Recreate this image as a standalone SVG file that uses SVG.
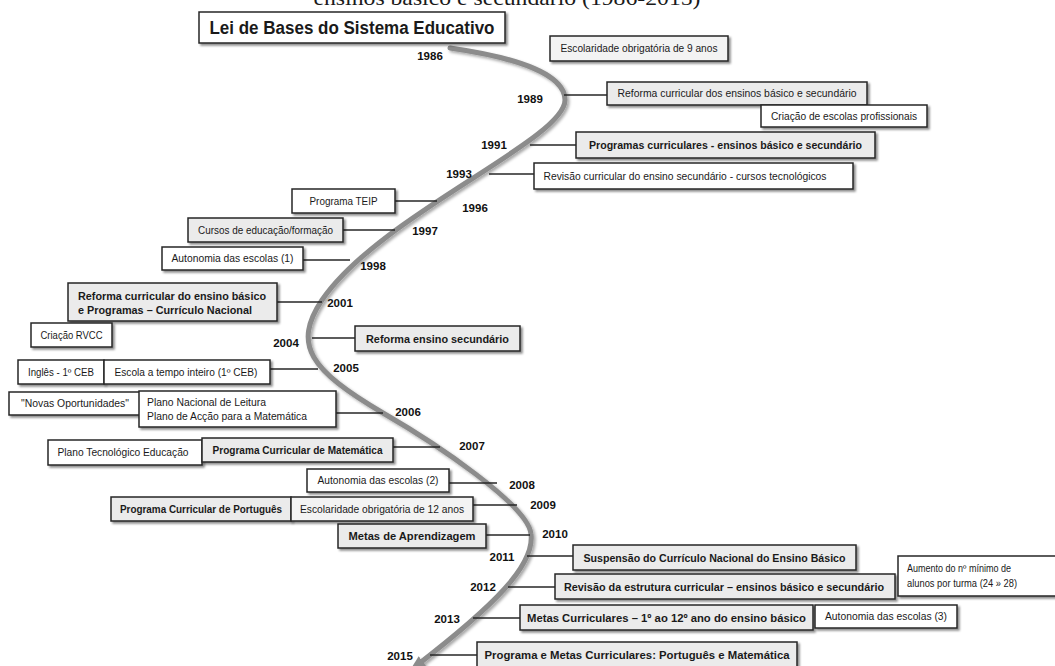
<svg xmlns="http://www.w3.org/2000/svg" width="1055" height="666" viewBox="0 0 1055 666">
<defs>
<style>
.bx{stroke:#262626;stroke-width:1.5;filter:url(#sh)}
.g{fill:#ebebeb}.w{fill:#ffffff}.l{fill:#f3f3f3}
text{font-family:"Liberation Sans",Arial,sans-serif;fill:#1a1a1a}
.t{font-size:10px;text-anchor:middle;dominant-baseline:central}
.tl{font-size:10px;dominant-baseline:central}
.b{font-size:10.5px;font-weight:bold;text-anchor:middle;dominant-baseline:central}
.bl{font-size:10.5px;font-weight:bold;dominant-baseline:central}
.yr{font-size:11.5px;font-weight:bold;text-anchor:middle;dominant-baseline:central;fill:#111}
.cn line{stroke:#262626;stroke-width:1.5}
</style>
<filter id="sh" x="-10%" y="-30%" width="125%" height="180%">
<feDropShadow dx="2" dy="2" stdDeviation="1.3" flood-color="#000" flood-opacity="0.45"/>
</filter>
<filter id="csh" x="-10%" y="-10%" width="130%" height="130%">
<feDropShadow dx="2" dy="2" stdDeviation="1.5" flood-color="#000" flood-opacity="0.35"/>
</filter>
<marker id="arr" markerUnits="userSpaceOnUse" markerWidth="16" markerHeight="16" refX="8" refY="8" orient="auto">
<path d="M0,2 L16,8 L0,14 Z" fill="#8c8c8c"/>
</marker>
</defs>
<rect width="1055" height="666" fill="#ffffff"/>
<text x="507" y="5" style="font-family:'Liberation Serif','Times New Roman',serif;font-size:22px;text-anchor:middle" textLength="387" lengthAdjust="spacingAndGlyphs">ensinos básico e secundário (1986-2015)</text>

<g id="timeline">
<path d="M450,48 C520,58 565,75 565,100 C565,140 380,215 322,300 C292,345 310,370 383,413 C435,443 528,505 531,534 C535,565 495,605 416,666" fill="none" stroke="#8c8c8c" stroke-width="5" stroke-linecap="round" filter="url(#csh)" marker-end="url(#arr)"/>
</g>

<g id="connectors" class="cn">
<line x1="564" y1="95" x2="607" y2="95"/>
<line x1="530" y1="145" x2="576" y2="145"/>
<line x1="489" y1="174" x2="534" y2="174"/>
<line x1="395" y1="201" x2="437" y2="201"/>
<line x1="343" y1="230" x2="395" y2="230"/>
<line x1="303" y1="260" x2="350" y2="260"/>
<line x1="277" y1="302" x2="322" y2="302"/>
<line x1="312" y1="338" x2="355" y2="338"/>
<line x1="270" y1="369" x2="318" y2="369"/>
<line x1="336" y1="413" x2="383" y2="413"/>
<line x1="393" y1="447" x2="440" y2="447"/>
<line x1="449" y1="483" x2="497" y2="483"/>
<line x1="473" y1="505" x2="517" y2="505"/>
<line x1="486" y1="535" x2="530" y2="535"/>
<line x1="527" y1="556" x2="573" y2="556"/>
<line x1="508" y1="587" x2="555" y2="587"/>
<line x1="473" y1="618" x2="520" y2="618"/>
<line x1="430" y1="655" x2="477" y2="655"/>
</g>

<g id="years">
<text class="yr" x="430" y="56">1986</text>
<text class="yr" x="530" y="99">1989</text>
<text class="yr" x="494" y="145">1991</text>
<text class="yr" x="459" y="174">1993</text>
<text class="yr" x="475" y="208">1996</text>
<text class="yr" x="425" y="231">1997</text>
<text class="yr" x="373" y="266">1998</text>
<text class="yr" x="340" y="303">2001</text>
<text class="yr" x="286" y="343">2004</text>
<text class="yr" x="346" y="368">2005</text>
<text class="yr" x="408" y="412">2006</text>
<text class="yr" x="472" y="446">2007</text>
<text class="yr" x="522" y="485">2008</text>
<text class="yr" x="543" y="505">2009</text>
<text class="yr" x="555" y="534">2010</text>
<text class="yr" x="502" y="557">2011</text>
<text class="yr" x="483" y="587">2012</text>
<text class="yr" x="447" y="619">2013</text>
<text class="yr" x="400" y="656">2015</text>
</g>

<g id="n-lei">
<rect class="bx w" x="199" y="12" width="306" height="31"/>
<text x="352" y="28" style="font-size:18px;font-weight:bold;text-anchor:middle;dominant-baseline:central" textLength="285" lengthAdjust="spacingAndGlyphs">Lei de Bases do Sistema Educativo</text>
</g>
<g id="n-escol9">
<rect class="bx l" x="550" y="36" width="178" height="25"/>
<text class="t" x="639" y="48.5" textLength="157" lengthAdjust="spacingAndGlyphs">Escolaridade obrigatória de 9 anos</text>
</g>
<g id="n-reforma89">
<rect class="bx g" x="607" y="82" width="260" height="23"/>
<text class="t" x="737" y="93.5" textLength="239" lengthAdjust="spacingAndGlyphs">Reforma curricular dos ensinos básico e secundário</text>
</g>
<g id="n-criacao">
<rect class="bx w" x="761" y="105" width="166" height="22"/>
<text class="t" x="844" y="116" textLength="146" lengthAdjust="spacingAndGlyphs">Criação de escolas profissionais</text>
</g>
<g id="n-programas91">
<rect class="bx g" x="576" y="132" width="299" height="26"/>
<text class="b" x="725.5" y="145" textLength="273" lengthAdjust="spacingAndGlyphs">Programas curriculares - ensinos básico e secundário</text>
</g>
<g id="n-revisao93">
<rect class="bx w" x="534" y="163" width="319" height="26"/>
<text class="t" x="685" y="176" textLength="283" lengthAdjust="spacingAndGlyphs">Revisão curricular do ensino secundário - cursos tecnológicos</text>
</g>
<g id="n-teip">
<rect class="bx w" x="292" y="189" width="103" height="24"/>
<text class="t" x="343.5" y="201" textLength="68" lengthAdjust="spacingAndGlyphs">Programa TEIP</text>
</g>
<g id="n-cursos">
<rect class="bx g" x="188" y="218" width="155" height="24"/>
<text class="t" x="265.5" y="230" textLength="135" lengthAdjust="spacingAndGlyphs">Cursos de educação/formação</text>
</g>
<g id="n-autonomia1">
<rect class="bx w" x="162" y="247" width="141" height="23"/>
<text class="t" x="232.5" y="258.5" textLength="122" lengthAdjust="spacingAndGlyphs">Autonomia das escolas (1)</text>
</g>
<g id="n-reforma01">
<rect class="bx g" x="68" y="283" width="209" height="38"/>
<text class="bl" x="78" y="295.5" textLength="188" lengthAdjust="spacingAndGlyphs">Reforma curricular do ensino básico</text>
<text class="bl" x="78" y="310" textLength="174" lengthAdjust="spacingAndGlyphs">e Programas – Currículo Nacional</text>
</g>
<g id="n-rvcc">
<rect class="bx w" x="31" y="323" width="81" height="24"/>
<text class="t" x="71.5" y="335" textLength="62" lengthAdjust="spacingAndGlyphs">Criação RVCC</text>
</g>
<g id="n-reforma04">
<rect class="bx g" x="355" y="326" width="165" height="25"/>
<text class="b" x="437.5" y="338.5" textLength="143" lengthAdjust="spacingAndGlyphs">Reforma ensino secundário</text>
</g>
<g id="n-ingles">
<rect class="bx w" x="18" y="360" width="86" height="24"/>
<text class="t" x="61" y="372" textLength="66" lengthAdjust="spacingAndGlyphs">Inglês - 1º CEB</text>
</g>
<g id="n-escola">
<rect class="bx w" x="104" y="360" width="166" height="24"/>
<text class="t" x="186" y="372" textLength="143" lengthAdjust="spacingAndGlyphs">Escola a tempo inteiro (1º CEB)</text>
</g>
<g id="n-novas">
<rect class="bx w" x="9" y="392" width="132" height="23"/>
<text class="t" x="75" y="403.5" textLength="108" lengthAdjust="spacingAndGlyphs">"Novas Oportunidades"</text>
</g>
<g id="n-plano">
<rect class="bx w" x="139" y="391" width="197" height="36"/>
<text class="tl" x="147" y="402" textLength="119" lengthAdjust="spacingAndGlyphs">Plano Nacional de Leitura</text>
<text class="tl" x="147" y="416" textLength="160" lengthAdjust="spacingAndGlyphs">Plano de Acção para a Matemática</text>
</g>
<g id="n-planotec">
<rect class="bx w" x="48" y="440" width="154" height="25"/>
<text class="t" x="123" y="452.5" textLength="131" lengthAdjust="spacingAndGlyphs">Plano Tecnológico Educação</text>
</g>
<g id="n-progmat">
<rect class="bx g" x="202" y="438" width="191" height="24"/>
<text class="b" x="297.5" y="450" textLength="170" lengthAdjust="spacingAndGlyphs">Programa Curricular de Matemática</text>
</g>
<g id="n-autonomia2">
<rect class="bx w" x="307" y="469" width="142" height="23"/>
<text class="t" x="378" y="480.5" textLength="121" lengthAdjust="spacingAndGlyphs">Autonomia das escolas (2)</text>
</g>
<g id="n-progport">
<rect class="bx g" x="111" y="497" width="180" height="24"/>
<text class="b" x="201" y="509" textLength="162" lengthAdjust="spacingAndGlyphs">Programa Curricular de Português</text>
</g>
<g id="n-escol12">
<rect class="bx l" x="291" y="497" width="182" height="24"/>
<text class="t" x="382" y="509" textLength="164" lengthAdjust="spacingAndGlyphs">Escolaridade obrigatória de 12 anos</text>
</g>
<g id="n-metasaprend">
<rect class="bx g" x="338" y="524" width="148" height="24"/>
<text class="b" x="412" y="536" textLength="127" lengthAdjust="spacingAndGlyphs">Metas de Aprendizagem</text>
</g>
<g id="n-suspensao">
<rect class="bx g" x="573" y="545" width="283" height="25"/>
<text class="b" x="714.5" y="557.5" textLength="262" lengthAdjust="spacingAndGlyphs">Suspensão do Currículo Nacional do Ensino Básico</text>
</g>
<g id="n-revisao12">
<rect class="bx g" x="555" y="574" width="340" height="25"/>
<text class="b" x="724" y="586.5" textLength="320" lengthAdjust="spacingAndGlyphs">Revisão da estrutura curricular – ensinos básico e secundário</text>
</g>
<g id="n-aumento">
<rect class="bx w" x="898" y="556" width="170" height="40"/>
<text class="tl" x="907" y="568" textLength="104" lengthAdjust="spacingAndGlyphs">Aumento do nº mínimo de</text>
<text class="tl" x="907" y="583" textLength="110" lengthAdjust="spacingAndGlyphs">alunos por turma (24 » 28)</text>
</g>
<g id="n-metascurr">
<rect class="bx g" x="520" y="605" width="293" height="25"/>
<text class="b" x="666.5" y="617.5" textLength="279" lengthAdjust="spacingAndGlyphs">Metas Curriculares – 1º ao 12º ano do ensino básico</text>
</g>
<g id="n-autonomia3">
<rect class="bx w" x="815" y="605" width="142" height="23"/>
<text class="t" x="886" y="616.5" textLength="122" lengthAdjust="spacingAndGlyphs">Autonomia das escolas (3)</text>
</g>
<g id="n-progmetas">
<rect class="bx g" x="477" y="642" width="320" height="30"/>
<text class="b" x="637" y="654.5" textLength="305" lengthAdjust="spacingAndGlyphs">Programa e Metas Curriculares: Português e Matemática</text>
</g>
</svg>
